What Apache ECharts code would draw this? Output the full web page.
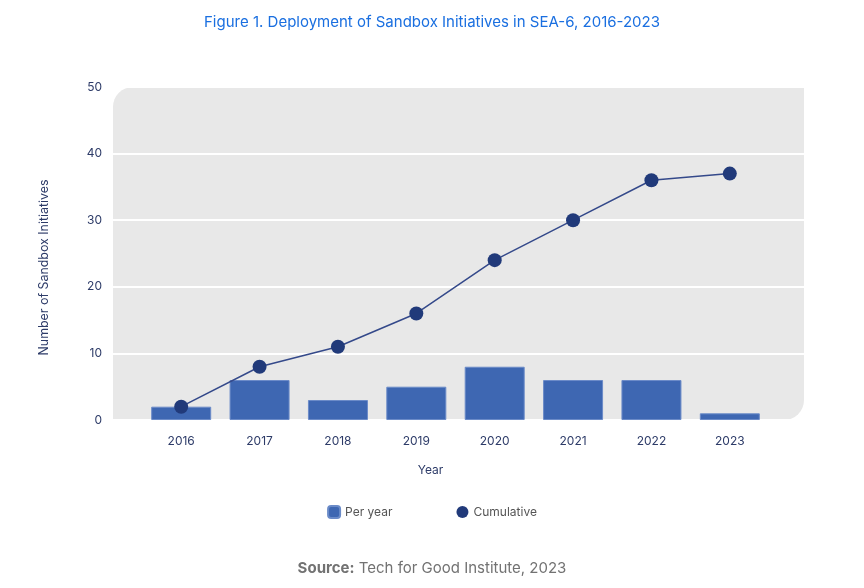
<!DOCTYPE html>
<html>
<head>
<meta charset="utf-8">
<script src="https://cdn.jsdelivr.net/npm/echarts@6/dist/echarts.min.js"></script>
<style>
  html, body { margin: 0; padding: 0; background: #fff; }
  #chart { width: 864px; height: 588px; }
</style>
</head>
<body>
<div id="chart"></div>
<script>
// data
const years = ['2016', '2017', '2018', '2019', '2020', '2021', '2022', '2023']
const perYear = [2, 6, 3, 5, 8, 6, 6, 1]
const cumulative = [2, 8, 11, 16, 24, 30, 36, 37]

const chart = echarts.init(document.getElementById('chart'))

const labelColor = '#2d3b68'

chart.setOption({
  animation: false,
  textStyle: { fontFamily: 'Inter, "Noto Sans", sans-serif' },
  title: [
    {
      text: 'Figure 1. Deployment of Sandbox Initiatives in SEA-6, 2016-2023',
      left: 'center',
      top: 10,
      textStyle: { color: '#1a6fe0', fontSize: 15, fontWeight: 'normal', fontFamily: 'Inter, sans-serif' }
    },
    {
      text: '{b|Source:} Tech for Good Institute, 2023',
      left: 'center',
      top: 556,
      textStyle: {
        color: '#727272', fontSize: 15, fontWeight: 'normal',
        rich: { b: { fontWeight: 'bold', fontSize: 15, color: '#727272' } }
      }
    }
  ],
  // rounded grey panel behind the plot (top-left and bottom-right corners)
  graphic: {
    elements: [{
      type: 'rect',
      z: -10,
      silent: true,
      shape: { x: 113, y: 87, width: 691, height: 333, r: [20, 0, 20, 0] },
      style: { fill: '#e8e8e8' }
    }]
  },
  legend: {
    bottom: 64,
    left: 'center',
    itemGap: 64,
    itemWidth: 12,
    itemHeight: 12,
    textStyle: { color: '#555', fontSize: 12 },
    data: [
      { name: 'Per year', icon: 'roundRect' },
      { name: 'Cumulative', icon: 'circle' }
    ]
  },
  grid: [
    { left: 142, right: 95, top: 87, bottom: 168 },
    // wider grid only for the white gridlines spanning the whole panel
    { left: 113, right: 60, top: 87, bottom: 168 }
  ],
  xAxis: [
    {
      type: 'category',
      gridIndex: 0,
      data: years,
      name: 'Year',
      nameLocation: 'middle',
      nameGap: 44,
      nameTextStyle: { color: labelColor, fontSize: 12, padding: [0, 50, 0, 0] },
      axisLine: { show: false },
      axisTick: { show: false },
      axisLabel: { color: labelColor, fontSize: 12, margin: 15 }
    },
    { type: 'value', gridIndex: 1, show: false }
  ],
  yAxis: [
    {
      type: 'value',
      gridIndex: 0,
      min: 0,
      max: 50,
      interval: 10,
      name: 'Number of Sandbox Initiatives',
      nameLocation: 'middle',
      nameGap: 92,
      nameTextStyle: { color: labelColor, fontSize: 12.4, padding: [0, 0, 0, -28] },
      axisLine: { show: false },
      axisTick: { show: false },
      axisLabel: { color: labelColor, fontSize: 12, margin: 40 },
      splitLine: { show: false }
    },
    {
      type: 'value',
      gridIndex: 1,
      min: 0,
      max: 50,
      interval: 10,
      axisLine: { show: false },
      axisTick: { show: false },
      axisLabel: { show: false },
      splitLine: { show: true, lineStyle: { color: '#ffffff', width: 2 } }
    }
  ],
  series: [
    {
      name: 'Per year',
      type: 'bar',
      data: perYear,
      barWidth: 60,
      itemStyle: { color: '#3e67b2', borderColor: '#6b8bc8', borderWidth: 1 }
    },
    {
      name: 'Cumulative',
      type: 'line',
      data: cumulative,
      symbol: 'circle',
      symbolSize: 14,
      itemStyle: { color: '#213a7a' },
      lineStyle: { color: '#34498a', width: 1.5 }
    }
  ]
})
</script>
</body>
</html>
